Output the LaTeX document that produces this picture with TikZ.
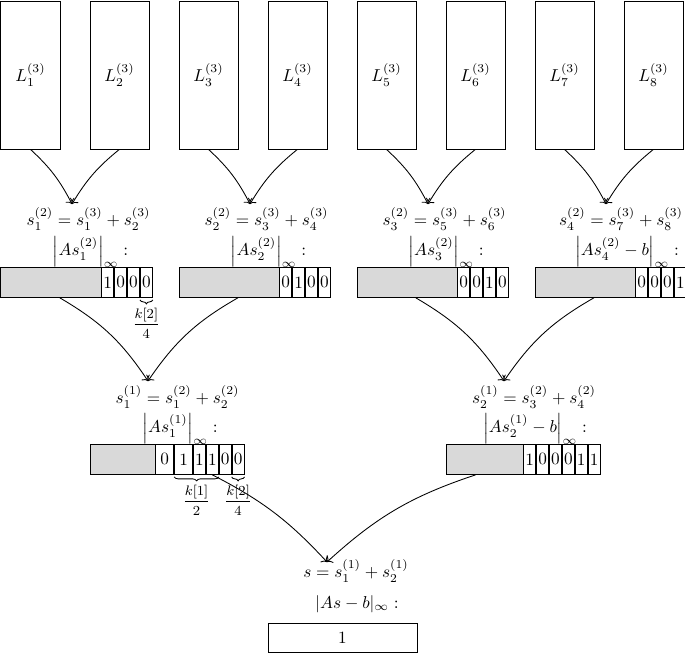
\documentclass[tikz,border=0pt]{standalone}
\usetikzlibrary{decorations.pathreplacing,arrows.meta}
\newlength{\pxu}\setlength{\pxu}{0.58pt}
\begin{document}
\begin{tikzpicture}[x=0.58pt,y=-0.58pt, line width=0.5pt,
  every node/.style={inner sep=0pt},
  tall/.style={draw, anchor=north west, minimum width=59\pxu, minimum height=148\pxu},
  shade/.style={draw, fill=gray!30, anchor=north west, minimum height=30\pxu},
  bit/.style={draw, anchor=north west, minimum height=30\pxu, minimum width=12\pxu},
  wbit/.style={bit, minimum width=18\pxu},
  endbox/.style={draw, anchor=north west, minimum height=29\pxu, minimum width=149\pxu},
  arr/.style={->},
  brc/.style={decorate, decoration={brace, mirror, amplitude=4\pxu}},
  frc/.style={font=\footnotesize, midway, below=8\pxu}
]
\useasboundingbox (0,0) rectangle (685,653);
% top level
\foreach \i in {1,...,8}{
  \node[tall] (L\i) at ({(\i-1)*89+0.5},0.5) {$L_{\i}^{(3)}$};
}
% level 2 bars
\node[shade, minimum width=100\pxu] (gA) at (0.5,267) {};
\node[bit] (a1) at (gA.north east) {1};
\node[bit] (a2) at (a1.north east) {0};
\node[bit] (a3) at (a2.north east) {0};
\node[bit] (a4) at (a3.north east) {0};
\node[shade, minimum width=100\pxu] (gB) at (178.5,267) {};
\node[bit] (b1) at (gB.north east) {0};
\node[bit] (b2) at (b1.north east) {1};
\node[bit] (b3) at (b2.north east) {0};
\node[bit] (b4) at (b3.north east) {0};
\node[shade, minimum width=100\pxu] (gC) at (356.5,267) {};
\node[bit] (c1) at (gC.north east) {0};
\node[bit] (c2) at (c1.north east) {0};
\node[bit] (c3) at (c2.north east) {1};
\node[bit] (c4) at (c3.north east) {0};
\node[shade, minimum width=100\pxu] (gD) at (534.5,267) {};
\node[bit] (d1) at (gD.north east) {0};
\node[bit] (d2) at (d1.north east) {0};
\node[bit] (d3) at (d2.north east) {0};
\node[bit] (d4) at (d3.north east) {1};
% level 2 texts
\node (eA) at (88.5,219) {$s_1^{(2)} = s_1^{(3)} + s_2^{(3)}$};
\node (nA) at (90.5,252) {$\left|As_1^{(2)}\right|_\infty :$};
\node (eB) at (266.5,219) {$s_2^{(2)} = s_3^{(3)} + s_4^{(3)}$};
\node (nB) at (268.5,252) {$\left|As_2^{(2)}\right|_\infty :$};
\node (eC) at (444.5,219) {$s_3^{(2)} = s_5^{(3)} + s_6^{(3)}$};
\node (nC) at (446,252) {$\left|As_3^{(2)}\right|_\infty :$};
\node (eD) at (621,219) {$s_4^{(2)} = s_7^{(3)} + s_8^{(3)}$};
\node (nD) at (627,252) {$\left|As_4^{(2)}-b\right|_\infty :$};
\coordinate (tA) at (72,204);
\coordinate (tB) at (250,204);
\coordinate (tC) at (428,204);
\coordinate (tD) at (606,204);
\draw[arr] (L1.south) to[bend left=10] (tA);
\draw[arr] (L2.south) to[bend right=10] (tA);
\draw[arr] (L3.south) to[bend left=10] (tB);
\draw[arr] (L4.south) to[bend right=10] (tB);
\draw[arr] (L5.south) to[bend left=10] (tC);
\draw[arr] (L6.south) to[bend right=10] (tC);
\draw[arr] (L7.south) to[bend left=10] (tD);
\draw[arr] (L8.south) to[bend right=10] (tD);
\draw[brc] ([yshift=-2\pxu]a4.south west) -- ([yshift=-2\pxu]a4.south east)
  node[frc] (kA) {$\displaystyle\frac{k[2]}{4}$};
% level 1 bars
\node[shade, minimum width=65\pxu] (gE) at (89.5,444) {};
\node[wbit] (e1) at (gE.north east) {0};
\node[wbit] (e2) at (e1.north east) {1};
\node[bit] (e3) at (e2.north east) {1};
\node[bit] (e4) at (e3.north east) {1};
\node[bit] (e5) at (e4.north east) {0};
\node[bit] (e6) at (e5.north east) {0};
\node[shade, minimum width=77\pxu] (gF) at (445.5,444) {};
\node[bit] (f1) at (gF.north east) {1};
\node[bit] (f2) at (f1.north east) {0};
\node[bit] (f3) at (f2.north east) {0};
\node[bit] (f4) at (f3.north east) {0};
\node[bit] (f5) at (f4.north east) {1};
\node[bit] (f6) at (f5.north east) {1};
\node (eE) at (177.5,397) {$s_1^{(1)} = s_1^{(2)} + s_2^{(2)}$};
\node (nE) at (180,429) {$\left|As_1^{(1)}\right|_\infty :$};
\node (eF) at (534,397) {$s_2^{(1)} = s_3^{(2)} + s_4^{(2)}$};
\node (nF) at (535,429) {$\left|As_2^{(1)}-b\right|_\infty :$};
\coordinate (tE) at (148,381);
\coordinate (tF) at (504,381);
\draw[arr] (gA.-60) to[bend left=13] (tE);
\draw[arr] (gB.-60) to[bend right=13] (tE);
\draw[arr] (gC.-60) to[bend left=13] (tF);
\draw[arr] (gD.-60) to[bend right=13] (tF);
\draw[brc] ([yshift=-2\pxu]e2.south west) -- ([yshift=-2\pxu]e4.south east)
  node[frc] (kB) {$\displaystyle\frac{k[1]}{2}$};
\draw[brc] ([yshift=-2\pxu]e6.south west) -- ([yshift=-2\pxu]e6.south east)
  node[frc] (kC) {$\displaystyle\frac{k[2]}{4}$};
% level 0
\node[endbox] (R) at (267.5,623) {1};
\node (eR) at (356,571) {$s = s_1^{(1)} + s_2^{(1)}$};
\node (nR) at (357,604) {$|As-b|_\infty :$};
\coordinate (tR) at (327,562);
\draw[arr] (e4.south) to[bend left=10] (tR);
\draw[arr] (gF.-120) to[bend right=12] (tR);
\end{tikzpicture}
\end{document}
